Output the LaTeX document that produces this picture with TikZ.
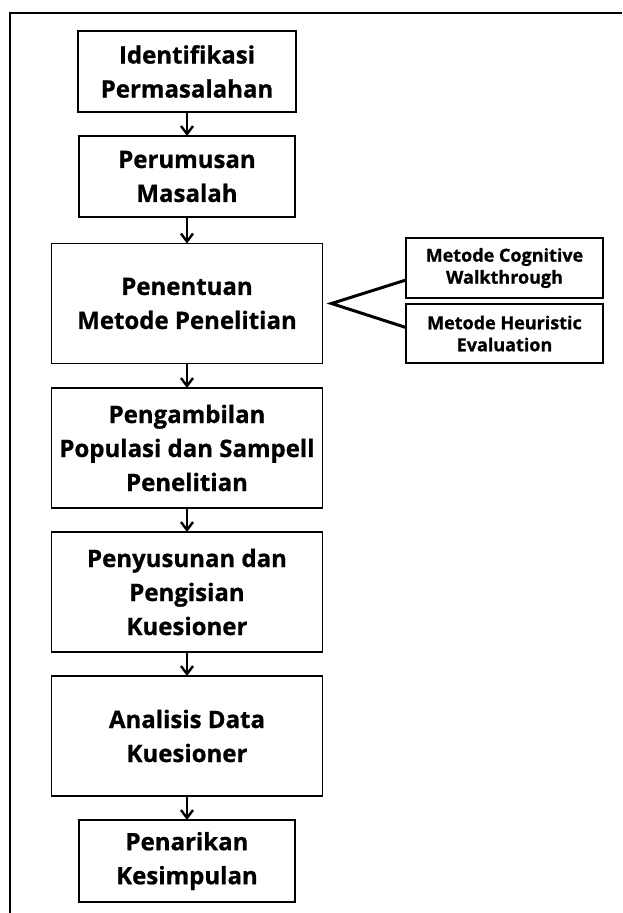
\documentclass[tikz,border=0pt]{standalone}
\usepackage{fontspec}
\usepackage{tikz}
\usetikzlibrary{arrows.meta,positioning,calc}
\setmainfont{Open Sans}[BoldFeatures={FakeBold=0.8}]

\begin{document}
\begin{tikzpicture}[
  x=1pt,y=-1pt,
  font=\fontsize{24}{34}\selectfont\bfseries,
  stepbox/.style={draw,line width=1.6pt,inner sep=0pt,outer sep=0pt,align=center},
  methodbox/.style={stepbox,minimum width=197pt,font=\fontsize{18}{22}\selectfont\bfseries},
  arr/.style={-{Straight Barb[length=8pt,width=12pt,line width=2.4pt]},line width=2.4pt},
  branch/.style={line width=3pt},
]
\useasboundingbox (0,0) rectangle (622,913);

% bingkai
\draw[line width=1.6pt] (10,913) -- (10,13) -- (622,13);

% alur utama
\node[stepbox,minimum width=218pt,minimum height=81pt] (ident) at (187,71.5) {Identifikasi\\Permasalahan};
\node[stepbox,minimum width=216pt,minimum height=81pt] (rumus) at (187,176.5) {Perumusan\\Masalah};
\node[stepbox,minimum width=271pt,minimum height=120pt] (metode) at (187,303.5) {Penentuan\\Metode Penelitian};
\node[stepbox,minimum width=271pt,minimum height=120pt] (sampel) at (187,448) {Pengambilan\\Populasi dan Sampell\\Penelitian};
\node[stepbox,minimum width=271pt,minimum height=120pt] (kuesioner) at (187,592) {Penyusunan dan\\Pengisian\\Kuesioner};
\node[stepbox,minimum width=271pt,minimum height=120pt] (analisis) at (187,736) {Analisis Data\\Kuesioner};
\node[stepbox,minimum width=216pt,minimum height=82pt] (simpul) at (187,861) {Penarikan\\Kesimpulan};

% metode
\node[methodbox,minimum height=60pt] (cog) at (504.5,268) {Metode Cognitive\\Walkthrough};
\node[methodbox,minimum height=59pt] (heur) at (504.5,333.5) {Metode Heuristic\\Evaluation};

% panah
\draw[arr] (ident) -- (rumus);
\draw[arr] (rumus) -- (metode);
\draw[arr] (metode) -- (sampel);
\draw[arr] (sampel) -- (kuesioner);
\draw[arr] (kuesioner) -- (analisis);
\draw[arr] (analisis) -- (simpul);

% cabang
\coordinate (fork) at ([xshift=9pt]metode.east);
\draw[branch] ([yshift=-12pt]cog.west) -- (fork) -- ([yshift=6pt]heur.west);

\end{tikzpicture}
\end{document}
